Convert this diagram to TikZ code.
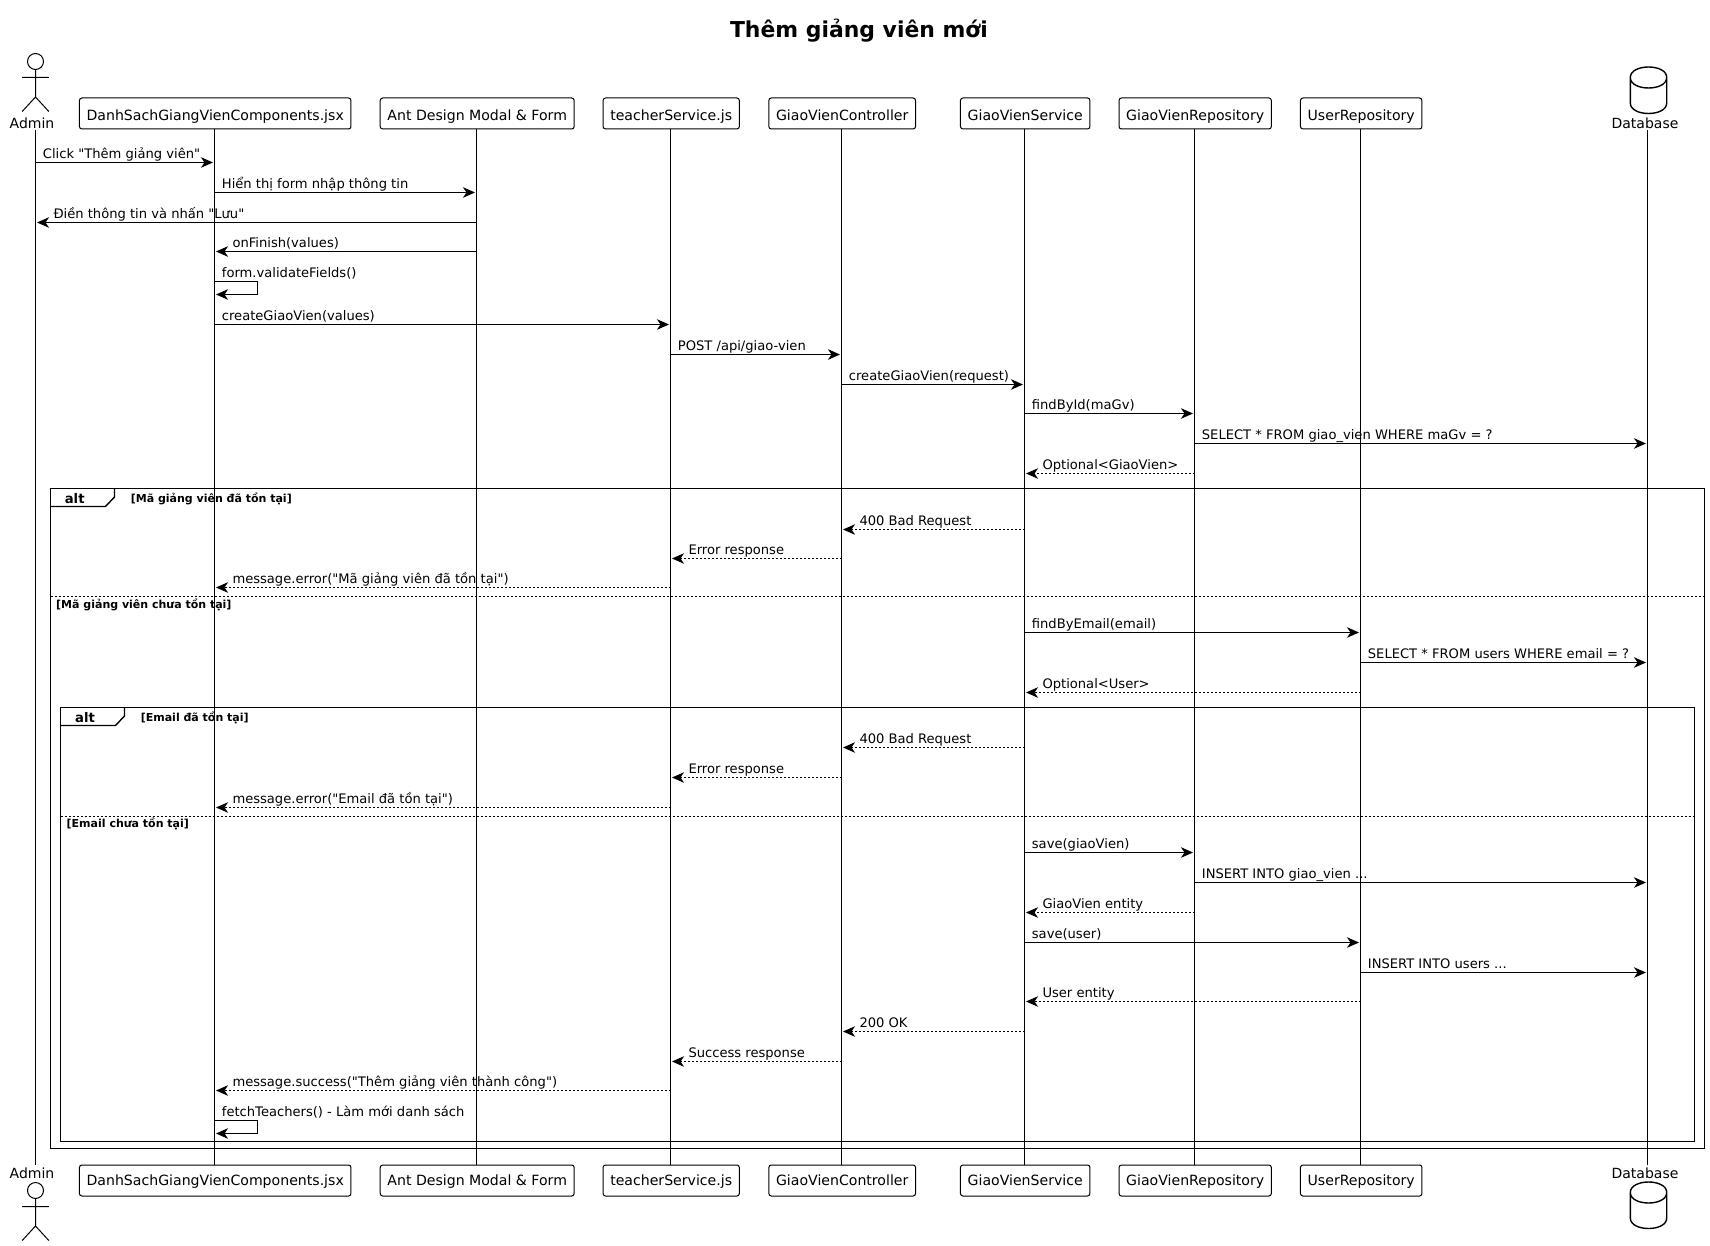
\documentclass[tikz,border=0pt]{standalone}
\usepackage{fontspec}
\setmainfont{DejaVu Sans}[Ligatures=TeXOff]
\usetikzlibrary{arrows.meta}

\tikzset{
  lifeline/.style={line width=1pt},
  partbox/.style={draw,line width=1pt,rounded corners=2.5pt,inner xsep=7.2pt,inner ysep=0pt,minimum height=31pt,text height=13.2pt,text depth=0pt,anchor=south,xshift=0.7pt,font=\fontsize{14.1}{16}\selectfont},
  partlbl/.style={inner sep=0pt,text height=13.2pt,text depth=0pt,font=\fontsize{14}{16}\selectfont},
  msgline/.style={line width=1pt,shorten >=1.5pt,-{Stealth[length=12pt,width=10.5pt,inset=3.5pt]}},
  msglbl/.style={anchor=base west,inner sep=0pt,font=\fontsize{13.1}{16}\selectfont},
  retline/.style={msgline,dash pattern=on 2pt off 2pt},
  frameline/.style={line width=1.4pt},
  divline/.style={line width=1pt,dash pattern=on 2pt off 2pt},
  altlbl/.style={inner sep=0pt,font=\bfseries\fontsize{13.2}{16}\selectfont},
  guardlbl/.style={anchor=west,inner sep=0pt,font=\bfseries\fontsize{11}{14}\selectfont},
  actor/.pic={
    \draw[line width=1pt] (0,-8) circle (8);
    \draw[line width=1pt] (0,0) -- (0,27.5) (-13.3,8) -- (13.3,8)
      (-13.3,42) -- (0,27.5) -- (13.3,42);
  },
  dbicon/.pic={
    \draw[line width=1.4pt] (-18.2,10.5) .. controls (-18.2,-3.5) and (18.2,-3.5) .. (18.2,10.5)
      .. controls (18.2,24.5) and (-18.2,24.5) .. (-18.2,10.5)
      -- (-18.2,36) .. controls (-18.2,50) and (18.2,50) .. (18.2,36) -- (18.2,10.5);
  },
}

% label right of the sender
\newcommand{\msgr}[6][msgline]{
  \coordinate (#2a) at (#3 |- 0,#5);
  \coordinate (#2b) at (#4 |- 0,#5);
  \draw[#1] (#2a) -- (#2b);
  \node[msglbl,xshift=7.2pt,yshift=4.4pt] (#2t) at (#2a) {#6};
}
% label right of the arrow head
\newcommand{\msgl}[6][retline]{
  \coordinate (#2a) at (#3 |- 0,#5);
  \coordinate (#2b) at (#4 |- 0,#5);
  \draw[#1] (#2a) -- (#2b);
  \node[msglbl,xshift=17.8pt,yshift=4.4pt] (#2t) at (#2b) {#6};
}
% call to itself
\newcommand{\msgself}[4]{
  \coordinate (#1a) at (#2 |- 0,#3);
  \coordinate (#1b) at (#2 |- 0,#3+13);
  \draw[msgline] (#1a) -- ++(43,0) -- ++(0,13) -- (#1b);
  \node[msglbl,xshift=7.2pt,yshift=4.4pt] (#1t) at (#1a) {#4};
}

\begin{document}
\begin{tikzpicture}[x=1pt,y=-1pt]
  \useasboundingbox (0,0) rectangle (1710,1246);

  \node[font=\bfseries\fontsize{21.9}{24}\selectfont,inner sep=0pt] (title) at (859,31) {Thêm giảng viên mới};

  % lifelines and their boxes
  \foreach \n/\x/\t in {danh/214.5/DanhSachGiangVienComponents.jsx,
      ant/476.5/Ant Design Modal \& Form,
      tsvc/670.5/teacherService.js,
      gvc/841.5/GiaoVienController,
      gvs/1024.5/GiaoVienService,
      gvr/1194.5/GiaoVienRepository,
      ur/1360.5/UserRepository}{
    \coordinate (\n) at (\x,129.5);
    \coordinate (\n2) at (\x,1164.5);
    \node[partbox] (\n box) at (\n) {\t};
    \node[partbox,anchor=north,text height=10.5pt] (\n box2) at (\n2) {\t};
  }
  \coordinate (admin) at (35.5,130);
  \coordinate (admin2) at (35.5,1165);
  \coordinate (db) at (1647.5,130);
  \coordinate (db2) at (1647.5,1165);
  \node[partlbl] (adminT) at (32,122) {Admin};
  \node[partlbl] (adminB) at (32,1171.5) {Admin};
  \node[partlbl] (dbT) at (1645,122) {Database};
  \node[partlbl] (dbB) at (1645,1171.5) {Database};
  \pic at (35.5,69.5) {actor};
  \pic at (35.5,1198.5) {actor};
  \pic at (1648.5,67) {dbicon};
  \pic at (1648.5,1182) {dbicon};

  \foreach \n in {admin,danh,ant,tsvc,gvc,gvs,gvr,ur,db}
    \draw[lifeline] (\n) -- (\n2);

  % alt frames
  \draw[frameline] (50.5,488.5) rectangle (1704.5,1148.5);
  \draw[frameline] (50.5,506.5) -- (105.5,506.5) -- (114.5,497) -- (114.5,488.5);
  \node[altlbl] (alt1) at (74.7,498.5) {alt};
  \node[guardlbl] (g1) at (130.6,499) {[Mã giảng viên đã tồn tại]};
  \draw[divline] (50.5,596.5) -- (1704.5,596.5);
  \node[guardlbl] (g2) at (56,605.3) {[Mã giảng viên chưa tồn tại]};
  \draw[frameline] (60.5,707.5) rectangle (1694.5,1141.5);
  \draw[frameline] (60.5,725.5) -- (115.5,725.5) -- (124.5,716) -- (124.5,707.5);
  \node[altlbl] (alt2) at (85,717.5) {alt};
  \node[guardlbl] (g3) at (140.6,718.3) {[Email đã tồn tại]};
  \draw[divline] (60.5,816.5) -- (1694.5,816.5);
  \node[guardlbl] (g4) at (66.5,823.8) {[Email chưa tồn tại]};

  % messages
  \msgr{m1}{admin}{danh}{162.5}{Click "Thêm giảng viên"}
  \msgr{m2}{danh}{ant}{192.5}{Hiển thị form nhập thông tin}
  \msgl[msgline]{m3}{ant}{admin}{222.5}{Điền thông tin và nhấn "Lưu"}
  \msgl[msgline]{m4}{ant}{danh}{251.5}{onFinish(values)}
  \msgself{m5}{danh}{281.5}{form.validateFields()}
  \msgr{m6}{danh}{tsvc}{324.5}{createGiaoVien(values)}
  \msgr{m7}{tsvc}{gvc}{354.5}{POST /api/giao-vien}
  \msgr{m8}{gvc}{gvs}{384.5}{createGiaoVien(request)}
  \msgr{m9}{gvs}{gvr}{413.5}{findById(maGv)}
  \msgr{m10}{gvr}{db}{443.5}{SELECT * FROM giao\_vien WHERE maGv = ?}
  \msgl{m11}{gvr}{gvs}{473.5}{Optional<GiaoVien>}
  \msgl{m12}{gvs}{gvc}{529.5}{400 Bad Request}
  \msgl{m13}{gvc}{tsvc}{558.5}{Error response}
  \msgl{m14}{tsvc}{danh}{587.5}{message.error("Mã giảng viên đã tồn tại")}
  \msgr{m15}{gvs}{ur}{632.5}{findByEmail(email)}
  \msgr{m16}{ur}{db}{662.5}{SELECT * FROM users WHERE email = ?}
  \msgl{m17}{ur}{gvs}{692.5}{Optional<User>}
  \msgl{m18}{gvs}{gvc}{747.5}{400 Bad Request}
  \msgl{m19}{gvc}{tsvc}{777.5}{Error response}
  \msgl{m20}{tsvc}{danh}{807.5}{message.error("Email đã tồn tại")}
  \msgr{m21}{gvs}{gvr}{852.5}{save(giaoVien)}
  \msgr{m22}{gvr}{db}{882.5}{INSERT INTO giao\_vien ...}
  \msgl{m23}{gvr}{gvs}{912.5}{GiaoVien entity}
  \msgr{m24}{gvs}{ur}{942.5}{save(user)}
  \msgr{m25}{ur}{db}{972.5}{INSERT INTO users ...}
  \msgl{m26}{ur}{gvs}{1001.5}{User entity}
  \msgl{m27}{gvs}{gvc}{1031.5}{200 OK}
  \msgl{m28}{gvc}{tsvc}{1061.5}{Success response}
  \msgl{m29}{tsvc}{danh}{1090.5}{message.success("Thêm giảng viên thành công")}
  \msgself{m30}{danh}{1120.5}{fetchTeachers() - Làm mới danh sách}
\end{tikzpicture}
\end{document}
